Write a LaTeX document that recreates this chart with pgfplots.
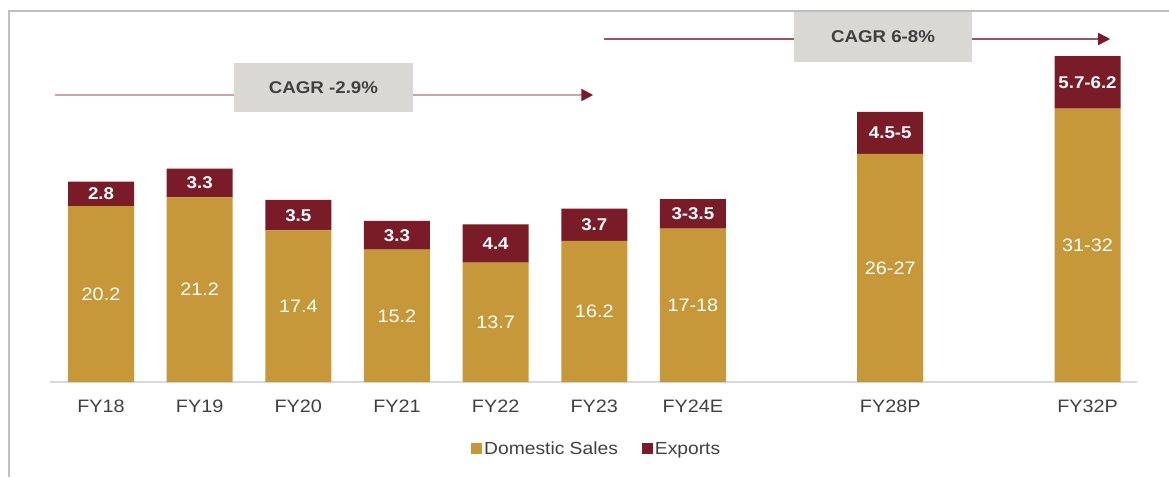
\documentclass[border=0pt]{standalone}
\usepackage{pgfplots}
\pgfplotsset{compat=1.18}
\usepackage{pgfplotstable}
\usepackage{fontspec}
\setmainfont[FakeStretch=1.1]{Liberation Sans}
\usetikzlibrary{arrows.meta}
\definecolor{gold}{HTML}{C6983A}
\definecolor{maroon}{HTML}{7A1C28}
\definecolor{boxgray}{HTML}{D9D8D4}
\definecolor{txt}{HTML}{404040}
\definecolor{axgray}{HTML}{D9D9D9}

\pgfplotstableread{
x dom exp dlab elab
0 20.2 2.8 20.2 2.8
1 21.2 3.3 21.2 3.3
2 17.4 3.5 17.4 3.5
3 15.2 3.3 15.2 3.3
4 13.7 4.4 13.7 4.4
5 16.2 3.7 16.2 3.7
6 17.6 3.4 17-18 3-3.5
8 26.2 4.8 26-27 4.5-5
10 31.4 6.0 31-32 5.7-6.2
}\datatable

\begin{document}
\begin{tikzpicture}
\useasboundingbox (0,0) rectangle (1169pt,477pt);
\draw[color=gray!50, line width=1.5pt] (9pt,0pt) -- (9pt,466pt) -- (1169pt,466pt);
\begin{axis}[
  at={(50pt,95pt)}, anchor=south west,
  x=98.65pt, y=8.71pt,
  xmin=-0.517, xmax=10.5, ymin=0, ymax=42.7,
  ybar stacked, bar width=66pt,
  clip=false,
  axis x line*=bottom, axis y line=none,
  axis line style={draw=axgray, line width=1.5pt, -},
  xtick={0,1,2,3,4,5,6,8,10},
  xticklabels={FY18,FY19,FY20,FY21,FY22,FY23,FY24E,FY28P,FY32P},
  xtick style={draw=none}, major tick length=0pt,
  ytick=\empty,
  xticklabel style={text=txt, font=\fontsize{18}{20}\selectfont, yshift=-14pt},
  legend style={at={(0.503,-0.18)}, anchor=center, draw=none, fill=none,
    legend columns=-1, font=\fontsize{17.5}{20}\selectfont, text=txt,
    /tikz/every even column/.append style={column sep=22pt},
    nodes={inner sep=2pt}},
  legend image code/.code={\fill[#1] (0pt,-5.5pt) rectangle (11pt,5.5pt);},
]
\addplot[fill=gold, draw=none,
  nodes near coords, point meta=explicit symbolic,
  every node near coord/.append style={anchor=center,
    text=white, font=\fontsize{18}{20}\selectfont}]
  table[x=x, y=dom, meta=dlab] {\datatable};
\addlegendentry{Domestic Sales}
\addplot[fill=maroon, draw=none,
  nodes near coords, point meta=explicit symbolic,
  every node near coord/.append style={anchor=center,
    text=white, font=\bfseries\fontsize{17}{20}\selectfont}]
  table[x=x, y=exp, meta=elab] {\datatable};
\addlegendentry{Exports}

\draw[maroon!40, line width=2.4pt] (axis cs:-0.466,32.95) -- (axis cs:1.348,32.95);
\draw[maroon!40, line width=2.4pt, -{Triangle[length=12pt,width=12pt,color=maroon]}]
  (axis cs:3.163,32.95) -- (axis cs:4.99,32.95);
\node[fill=boxgray, minimum width=179pt, minimum height=49pt, inner sep=0pt,
  text=txt, font=\bfseries\fontsize{17}{20}\selectfont] at (axis cs:2.255,33.8) {CAGR -2.9\%};
\draw[maroon!75, line width=1.6pt] (axis cs:5.099,39.38) -- (axis cs:7.025,39.38);
\draw[maroon!75, line width=1.6pt, -{Triangle[length=12pt,width=12pt,color=maroon]}]
  (axis cs:8.829,39.38) -- (axis cs:10.23,39.38);
\node[fill=boxgray, minimum width=178pt, minimum height=50pt, inner sep=0pt,
  text=txt, font=\bfseries\fontsize{17}{20}\selectfont] at (axis cs:7.927,39.6) {CAGR 6-8\%};
\end{axis}
\end{tikzpicture}
\end{document}
